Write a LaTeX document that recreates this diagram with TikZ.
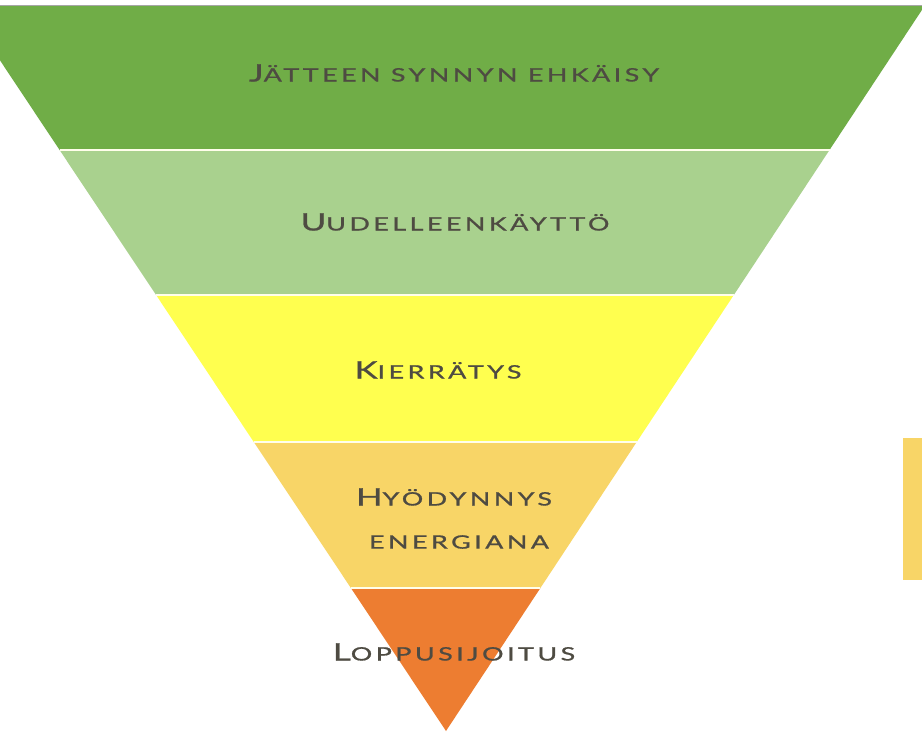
\documentclass[tikz,border=0pt]{standalone}
\usepackage{fontspec}
\usepackage{graphicx}
\setmainfont{Lato}
\definecolor{band1}{HTML}{70AD47}
\definecolor{band2}{HTML}{A9D18E}
\definecolor{band3}{HTML}{FFFF4F}
\definecolor{band4}{HTML}{F8D567}
\definecolor{band5}{HTML}{ED7D31}
\definecolor{txt}{HTML}{4E4B42}
\newcommand{\bigc}[1]{{\fontsize{24}{28}\selectfont #1}}
\newcommand{\smc}[1]{{\fontsize{18.5}{22}\selectfont #1}}
\newcommand{\wide}[1]{\scalebox{1.45}[1]{\addfontfeature{LetterSpace=13,FakeBold=0.9}#1}}
\tikzset{
  lbl/.style={text=txt, inner sep=0pt, anchor=center},
  sep/.style={draw=white!92!yellow, line width=1.6pt}
}
\begin{document}
\begin{tikzpicture}[x=1pt,y=-1pt]
\useasboundingbox (0,0) rectangle (922,732);
\fill[white] (0,0) rectangle (922,732);
\begin{scope}
\clip (0,0) rectangle (922,732);
\coordinate (l0) at (-36.8,5);   \coordinate (r0) at (925.2,5);
\coordinate (l1) at (59.6,150);  \coordinate (r1) at (829.5,150);
\coordinate (l2) at (156.1,295); \coordinate (r2) at (733.8,295);
\coordinate (l3) at (253.8,442); \coordinate (r3) at (636.7,442);
\coordinate (l4) at (350.9,588); \coordinate (r4) at (540.4,588);
\coordinate (apex) at (446,731);
\fill[band1] (l0) -- (r0) -- (r1) -- (l1) -- cycle;
\fill[band2] (l1) -- (r1) -- (r2) -- (l2) -- cycle;
\fill[band3] (l2) -- (r2) -- (r3) -- (l3) -- cycle;
\fill[band4] (l3) -- (r3) -- (r4) -- (l4) -- cycle;
\fill[band5] (l4) -- (r4) -- (apex) -- cycle;
\draw[gray!70, line width=0.8pt] (l0) -- (r0);
\draw[sep] (l1) -- (r1);
\draw[sep] (l2) -- (r2);
\draw[sep] (l3) -- (r3);
\draw[sep] (l4) -- (r4);
\end{scope}
\fill[band4] (903,438) rectangle (922,580);
\node[lbl] (t1) at (454,73) {\wide{\bigc{J}\smc{ÄTTEEN SYNNYN EHKÄISY}}};
\node[lbl] (t2) at (455,222) {\wide{\bigc{U}\smc{UDELLEENKÄYTTÖ}}};
\node[lbl] (t3) at (438,370) {\wide{\bigc{K}\smc{IERRÄTYS}}};
\node[lbl] (t4a) at (454,497) {\wide{\bigc{H}\smc{YÖDYNNYS}}};
\node[lbl] (t4b) at (459,542) {\wide{\smc{ENERGIANA}}};
\node[lbl] (t5) at (454,652) {\wide{\bigc{L}\smc{OPPUSIJOITUS}}};
\end{tikzpicture}
\end{document}
